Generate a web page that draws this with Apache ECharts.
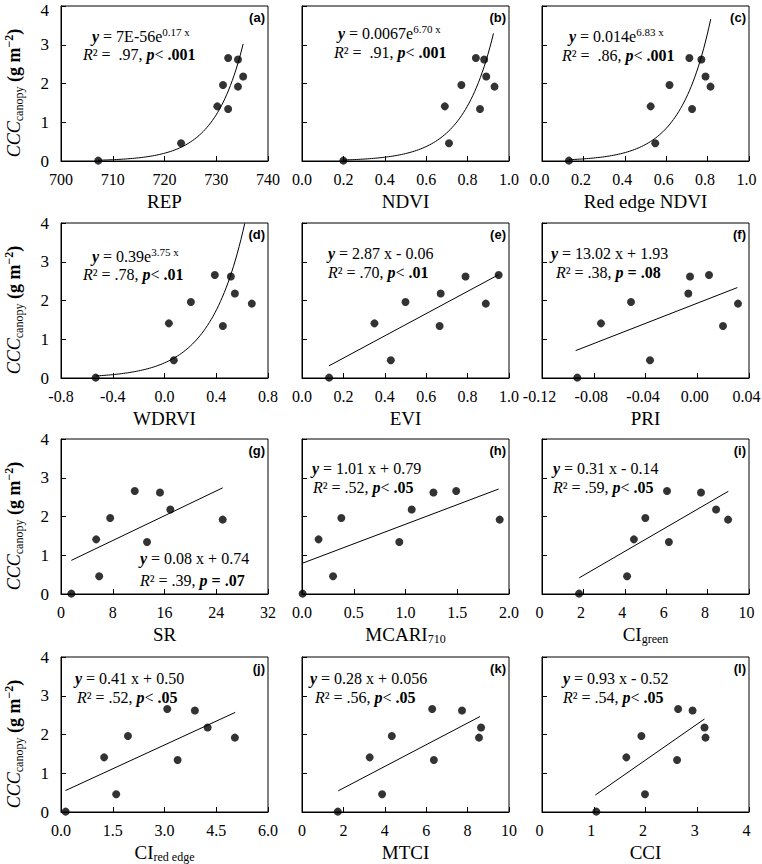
<!DOCTYPE html>
<html><head><meta charset="utf-8">
<script src="https://cdn.jsdelivr.net/npm/echarts@6/dist/echarts.min.js"></script>
<style>html,body{margin:0;padding:0;background:#fff}#c{width:762px;height:864px}</style>
</head><body><div id="c"></div>
<script>
// Sample order: A..I (same samples in every panel)
const CCC = [0.01, 0.46, 1.34, 1.41, 1.92, 1.96, 2.18, 2.62, 2.66];

const X_REP    = [707.2, 723.2, 732.3, 730.2, 734.2, 731.3, 735.2, 734.2, 732.3];
const X_NDVI   = [0.20, 0.71, 0.86, 0.69, 0.93, 0.77, 0.89, 0.88, 0.84];
const X_RENDVI = [0.13, 0.547, 0.725, 0.525, 0.814, 0.616, 0.79, 0.77, 0.712];
const X_WDRVI  = [-0.532, 0.072, 0.451, 0.034, 0.675, 0.204, 0.544, 0.513, 0.389];
const X_EVI    = [0.131, 0.429, 0.665, 0.35, 0.888, 0.50, 0.67, 0.79, 0.95];
const X_PRI    = [-0.0927, -0.0365, 0.0199, -0.0744, 0.0315, -0.0512, -0.0069, -0.0056, 0.0091];
const X_SR     = [1.6, 5.9, 13.3, 5.44, 25.0, 7.6, 16.9, 15.3, 11.4];
const X_MCARI  = [0.006, 0.30, 0.94, 0.16, 1.91, 0.38, 1.06, 1.27, 1.49];
const X_CIG    = [1.79, 4.11, 6.13, 4.44, 8.99, 4.99, 8.41, 7.68, 6.04];
const X_CIRE   = [0.135, 1.60, 3.38, 1.25, 5.04, 1.94, 4.25, 3.88, 3.08];
const X_MTCI   = [1.73, 3.87, 6.37, 3.27, 8.55, 4.34, 8.65, 7.73, 6.29];
const X_CCI    = [1.05, 1.99, 2.61, 1.63, 3.16, 1.92, 3.14, 2.91, 2.63];
const X_VALUES = [X_REP, X_NDVI, X_RENDVI, X_WDRVI, X_EVI, X_PRI, X_SR, X_MCARI, X_CIG, X_CIRE, X_MTCI, X_CCI];

const X_NAMES = ['{n|REP}', '{n|NDVI}', '{n|Red edge NDVI}', '{n|WDRVI}', '{n|EVI}', '{n|PRI}',
  '{n|SR}', '{n|MCARI}{s|710}', '{n|CI}{s|green}', '{n|CI}{s|red edge}', '{n|MTCI}', '{n|CCI}'];
const PANEL_TAGS = ['(a)','(b)','(c)','(d)','(e)','(f)','(g)','(h)','(i)','(j)','(k)','(l)'];

const X_MIN  = [700, 0, 0, -0.8, 0, -0.12, 0, 0, 0, 0, 0, 0];
const X_MAX  = [740, 1, 1, 0.8, 1, 0.04, 32, 2, 10, 6, 10, 4];
const X_STEP = [10, 0.2, 0.2, 0.4, 0.2, 0.04, 8, 0.5, 2, 1.5, 2, 1];
const X_DEC  = [0, 1, 1, 1, 1, 2, 0, 1, 0, 1, 0, 0];
const Y_TICKS = [0, 1, 2, 3, 4];

// Fitted curves: exp -> y = A*e^(B*x); lin -> y = A*x + B
const FIT_TYPE = ['exp','exp','exp','exp','lin','lin','lin','lin','lin','lin','lin','lin'];
const FIT_A  = [2.848e-57, 0.0067, 0.014, 0.39, 2.87, 13.02, 0.08, 1.01, 0.31, 0.41, 0.28, 0.93];
const FIT_B  = [0.1786, 6.70, 6.83, 3.75, -0.06, 1.93, 0.74, 0.79, -0.14, 0.50, 0.056, -0.52];
const FIT_X0 = [707.2, 0.20, 0.13, -0.532, 0.13, -0.094, 1.6, 0.0, 1.8, 0.13, 1.75, 1.03];
const FIT_X1 = [735.2, 0.925, 0.815, 0.62, 0.95, 0.031, 25.0, 1.9, 9.0, 5.05, 8.6, 3.14];

const EQ1 = [
  '{bi|y}{n| = 7E-56e}{sup|0.17 x}',
  '{bi|y}{n| = 0.0067e}{sup|6.70 x}',
  '{bi|y}{n| = 0.014e}{sup|6.83 x}',
  '{bi|y}{n| = 0.39e}{sup|3.75 x}',
  '{bi|y}{n| = 2.87 x - 0.06}',
  '{bi|y}{n| = 13.02 x + 1.93}',
  '{bi|y}{n| = 0.08 x + 0.74}',
  '{bi|y}{n| = 1.01 x + 0.79}',
  '{bi|y}{n| = 0.31 x - 0.14}',
  '{bi|y}{n| = 0.41 x + 0.50}',
  '{bi|y}{n| = 0.28 x + 0.056}',
  '{bi|y}{n| = 0.93 x - 0.52}'
];
const EQ2 = [
  '{ri|R}{n|² =  .97, }{bi|p}{n|< }{b|.001}',
  '{ri|R}{n|² =  .91, }{bi|p}{n|< }{b|.001}',
  '{ri|R}{n|² =  .86, }{bi|p}{n|< }{b|.001}',
  '{ri|R}{n|² = .78, }{bi|p}{n|< }{b|.01}',
  '{ri|R}{n|² = .70, }{bi|p}{n|< }{b|.01}',
  '{ri|R}{n|² = .38, }{bi|p}{b| = .08}',
  '{ri|R}{n|² = .39, }{bi|p}{b| = .07}',
  '{ri|R}{n|² = .52, }{bi|p}{n|< }{b|.05}',
  '{ri|R}{n|² = .59, }{bi|p}{n|< }{b|.05}',
  '{ri|R}{n|² = .52, }{bi|p}{n|< }{b|.05}',
  '{ri|R}{n|² = .56, }{bi|p}{n|< }{b|.05}',
  '{ri|R}{n|² = .54, }{bi|p}{n|< }{b|.05}'
];

// ---- layout (pixels) ----
const COL_LEFT = [61, 302, 542];
const ROW_TOP = [6, 223, 439, 657];
const GW = 207, GH = 155;
// equation offsets from grid top-left: [dx1, dy1, dx2, dy2]
const EQ_POS = [
  [31, 30, 22, 48], [36, 27, 32, 46], [27, 30, 20, 49],
  [31, 33, 22, 51], [26, 30, 26, 49], [9, 30, 14, 49],
  [79, 119, 79, 141], [10, 29, 11, 48], [11, 29, 11, 48],
  [14, 21, 16, 40], [8, 21, 13, 40], [21, 21, 21, 40]
];

const SERIF = "'Liberation Serif'";
const SANS = "'Liberation Sans'";
const eqRich = {
  n:  {fontFamily: SERIF, fontSize: 16, lineHeight: 20, fill: '#000', color: '#000'},
  b:  {fontFamily: SERIF, fontSize: 16, lineHeight: 20, fontWeight: 'bold', fill: '#000', color: '#000'},
  ri: {fontFamily: SERIF, fontSize: 16, lineHeight: 20, fontStyle: 'italic', fill: '#000', color: '#000'},
  bi: {fontFamily: SERIF, fontSize: 16, lineHeight: 20, fontStyle: 'italic', fontWeight: 'bold', fill: '#000', color: '#000'},
  sup:{fontFamily: SERIF, fontSize: 11, lineHeight: 11, verticalAlign: 'top', fill: '#000', color: '#000'}
};
const nameRich = {
  n: {fontFamily: SERIF, fontSize: 19, lineHeight: 22, fill: '#000', color: '#000'},
  s: {fontFamily: SERIF, fontSize: 12, lineHeight: 12, verticalAlign: 'bottom', fill: '#000', color: '#000'}
};
const yTitleRich = {
  i: {fontFamily: SERIF, fontSize: 18, lineHeight: 22, fontStyle: 'italic', fill: '#000'},
  s: {fontFamily: SERIF, fontSize: 12, lineHeight: 12, verticalAlign: 'bottom', fill: '#000'},
  b: {fontFamily: SERIF, fontSize: 18, lineHeight: 22, fontWeight: 'bold', fill: '#000'},
  p: {fontFamily: SERIF, fontSize: 12, lineHeight: 12, verticalAlign: 'top', fontWeight: 'bold', fill: '#000'}
};

function fitCurve(i) {
  const pts = [];
  const n = FIT_TYPE[i] === 'exp' ? 80 : 1;
  for (let k = 0; k <= n; k++) {
    const x = FIT_X0[i] + (FIT_X1[i] - FIT_X0[i]) * k / n;
    const y = FIT_TYPE[i] === 'exp' ? FIT_A[i] * Math.exp(FIT_B[i] * x) : FIT_A[i] * x + FIT_B[i];
    pts.push([x, y]);
  }
  return pts;
}

const grid = [], xAxis = [], yAxis = [], series = [], graphic = [];
for (let i = 0; i < 12; i++) {
  const r = Math.floor(i / 3), c = i % 3;
  const left = COL_LEFT[c], top = ROW_TOP[r];
  grid.push({left: left, top: top, width: GW, height: GH, show: true, borderColor: '#000',
    borderWidth: 1, backgroundColor: 'transparent', containLabel: false, outerBoundsMode: 'none'});
  const dec = X_DEC[i];
  xAxis.push({
    gridIndex: i, type: 'value', min: X_MIN[i], max: X_MAX[i], interval: X_STEP[i],
    axisLine: {show: true, onZero: false, lineStyle: {color: '#000', width: 1}},
    axisTick: {show: true, inside: true, length: 5, lineStyle: {color: '#000', width: 1}},
    axisLabel: {show: true, fontFamily: SERIF, fontSize: 16, color: '#000', margin: 10,
      showMinLabel: true, showMaxLabel: true,
      padding: (c === 2 ? [0, 5, 0, 0] : 0),
      formatter: v => { if (Math.abs(v) < 1e-9) v = 0; return v.toFixed(dec); }},
    splitLine: {show: false}
  });
  const yLabel = {show: c === 0, fontFamily: SERIF, fontSize: 17, lineHeight: 12, color: '#000', margin: 12};
  if (r === 0) { yLabel.verticalAlignMaxLabel = 'top'; yLabel.lineHeight = 9; }
  yAxis.push({
    gridIndex: i, type: 'value', min: Y_TICKS[0], max: Y_TICKS[Y_TICKS.length - 1], interval: 1,
    axisLine: {show: true, onZero: false, lineStyle: {color: '#000', width: 1}},
    axisTick: {show: true, inside: true, length: 5, lineStyle: {color: '#000', width: 1}},
    axisLabel: yLabel,
    splitLine: {show: false}
  });
  series.push({
    type: 'line', xAxisIndex: i, yAxisIndex: i, data: fitCurve(i), showSymbol: false, symbol: 'none',
    lineStyle: {color: '#000', width: 1}, silent: true, clip: true, z: 2
  });
  series.push({
    type: 'scatter', xAxisIndex: i, yAxisIndex: i,
    data: X_VALUES[i].map((x, k) => [x, CCC[k]]),
    symbol: 'circle', symbolSize: 8, itemStyle: {color: '#000'}, z: 3
  });
  // panel tag
  graphic.push({type: 'text', x: left + GW - 3, y: top + 11, z: 10,
    style: {text: PANEL_TAGS[i], fontFamily: SANS, fontSize: 13, fontWeight: 'bold', fill: '#000', align: 'right', verticalAlign: 'middle'}});
  // equations
  const p = EQ_POS[i];
  graphic.push({type: 'text', x: left + p[0], y: top + p[1], z: 10,
    style: {text: EQ1[i], rich: eqRich, fontFamily: SERIF, fontSize: 16, align: 'left', verticalAlign: 'middle', fill: '#000'}});
  graphic.push({type: 'text', x: left + p[2], y: top + p[3], z: 10,
    style: {text: EQ2[i], rich: eqRich, fontFamily: SERIF, fontSize: 16, align: 'left', verticalAlign: 'middle', fill: '#000'}});
  // x axis name
  graphic.push({type: 'text', x: left + GW / 2, y: top + GH + 40, z: 10,
    style: {text: X_NAMES[i], rich: nameRich, fontFamily: SERIF, fontSize: 19, align: 'center', verticalAlign: 'middle', fill: '#000'}});
  // y title (left column)
  if (c === 0) {
    graphic.push({type: 'text', x: 14, y: top + 87, rotation: Math.PI / 2, z: 10,
      style: {text: '{i|CCC}{s|canopy}{b| (g m}{p|−2}{b|)}', rich: yTitleRich, fontFamily: SERIF, fontSize: 18,
        align: 'center', verticalAlign: 'middle', fill: '#000'}});
  }
}

const chart = echarts.init(document.getElementById('c'), null, {renderer: 'svg'});
chart.setOption({
  animation: false,
  backgroundColor: '#fff',
  textStyle: {fontFamily: SERIF},
  grid: grid, xAxis: xAxis, yAxis: yAxis, series: series, graphic: graphic
});
</script>
</body></html>
